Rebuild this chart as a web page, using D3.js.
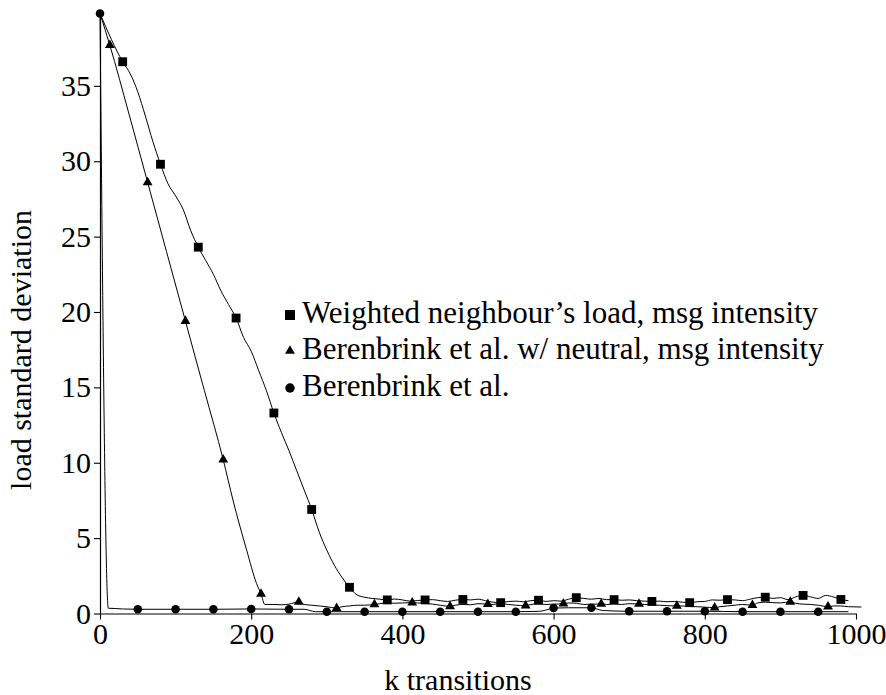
<!DOCTYPE html>
<html>
<head>
<meta charset="utf-8">
<script src="https://cdn.jsdelivr.net/npm/d3@7"></script>
<style>
  html, body { margin: 0; padding: 0; background: #fff; }
  svg { display: block; }
</style>
</head>
<body>
<script>
// ---------- data ----------
const xTicks = [0, 200, 400, 600, 800, 1000];
const yTicks = [0, 5, 10, 15, 20, 25, 30, 35];
const legendLabels = [
  "Weighted neighbour\u2019s load, msg intensity",
  "Berenbrink et al. w/ neutral, msg intensity",
  "Berenbrink et al."
];
const xLabel = "k transitions";
const yLabel = "load standard deviation";

// Series 1: Weighted neighbour's load (squares) — line samples
const wX = [0, 30, 40, 50, 60, 70, 80, 90, 100, 110, 120, 130, 140, 150, 160, 170, 180, 190, 200, 210, 220, 230, 240, 250, 260, 270, 280, 290, 300, 310, 320, 330, 340, 350, 360, 370, 380, 390, 400, 410, 420, 430, 440, 450, 460, 470, 480, 490, 500, 510, 520, 530, 540, 550, 560, 570, 580, 590, 600, 610, 620, 630, 640, 650, 660, 670, 680, 690, 700, 710, 720, 730, 740, 750, 760, 770, 780, 790, 800, 810, 820, 830, 840, 850, 860, 870, 880, 890, 900, 910, 920, 930, 940, 950, 960, 970, 980, 990];
const wY = [39.8, 36.6, 35.8, 34.6, 33.0, 31.3, 29.8, 28.5, 27.7, 26.8, 25.4, 24.3, 23.4, 22.5, 21.4, 20.5, 19.6, 18.3, 17.4, 16.1, 14.8, 13.3, 12.0, 10.8, 9.5, 8.2, 6.9, 5.4, 4.2, 3.2, 2.4, 1.74, 1.23, 1.08, 1.0, 0.95, 0.9, 0.96, 0.9, 0.82, 0.86, 0.9, 0.92, 0.85, 0.8, 0.88, 0.93, 0.9, 0.95, 0.85, 0.75, 0.72, 0.8, 0.82, 0.78, 0.85, 0.88, 0.8, 0.85, 0.82, 0.95, 1.05, 1.0, 0.95, 1.0, 0.92, 0.92, 0.88, 0.9, 0.85, 0.82, 0.8, 0.82, 0.78, 0.8, 0.75, 0.72, 0.78, 0.8, 0.9, 0.88, 0.92, 0.9, 0.85, 0.95, 1.05, 1.08, 1.0, 1.05, 0.92, 1.1, 1.2, 1.1, 1.0, 1.2, 1.1, 0.93, 0.85];
const wMarkX = [30, 80, 130, 180, 230, 280, 330, 380, 430, 480, 530, 580, 630, 680, 730, 780, 830, 880, 930, 980];
const wMarkY = [36.6, 29.8, 24.3, 19.6, 13.3, 6.9, 1.74, 0.9, 0.9, 0.93, 0.72, 0.88, 1.05, 0.92, 0.8, 0.72, 0.92, 1.08, 1.2, 0.93];

// Series 2: Berenbrink et al. w/ neutral (triangles)
const nX = [0, 13, 38, 63, 88, 113, 138, 163, 176, 194, 207, 213, 218, 230, 240, 250, 263, 270, 280, 290, 300, 313, 320, 330, 340, 350, 363, 370, 380, 390, 400, 413, 420, 430, 440, 450, 463, 470, 480, 490, 500, 513, 520, 530, 540, 550, 563, 570, 580, 590, 600, 613, 620, 630, 640, 650, 663, 670, 680, 690, 700, 713, 720, 730, 740, 750, 763, 770, 780, 790, 800, 813, 820, 830, 840, 850, 863, 870, 880, 890, 900, 913, 920, 930, 940, 950, 963, 970, 980, 990, 1007];
const nY = [39.8, 37.7, 33.2, 28.6, 24.0, 19.4, 14.8, 10.2, 7.5, 4.2, 2.0, 1.3, 0.6, 0.6, 0.58, 0.62, 0.77, 0.6, 0.55, 0.5, 0.45, 0.36, 0.45, 0.5, 0.55, 0.55, 0.6, 0.65, 0.7, 0.68, 0.7, 0.72, 0.7, 0.68, 0.62, 0.55, 0.47, 0.55, 0.6, 0.58, 0.65, 0.62, 0.6, 0.66, 0.6, 0.55, 0.52, 0.6, 0.64, 0.6, 0.62, 0.65, 0.7, 0.68, 0.6, 0.62, 0.63, 0.6, 0.62, 0.6, 0.65, 0.63, 0.6, 0.56, 0.55, 0.52, 0.5, 0.5, 0.46, 0.45, 0.42, 0.39, 0.45, 0.5, 0.55, 0.6, 0.55, 0.7, 0.75, 0.72, 0.7, 0.77, 0.68, 0.62, 0.6, 0.55, 0.45, 0.5, 0.5, 0.45, 0.43];
const nMarkX = [13, 63, 113, 163, 213, 263, 313, 363, 413, 463, 513, 563, 613, 663, 713, 763, 813, 863, 913, 963];
const nMarkY = [37.7, 28.6, 19.4, 10.2, 1.3, 0.77, 0.36, 0.6, 0.72, 0.47, 0.62, 0.52, 0.65, 0.63, 0.63, 0.5, 0.39, 0.55, 0.77, 0.45];

// Series 3: Berenbrink et al. (circles)
const bX = [0, 11, 20, 30, 50, 100, 150, 200, 250, 270, 285, 300, 350, 400, 450, 500, 550, 580, 595, 600, 620, 650, 665, 700, 750, 800, 850, 900, 950, 990];
const bY = [39.8, 0.35, 0.33, 0.3, 0.28, 0.28, 0.28, 0.3, 0.28, 0.28, 0.12, 0.12, 0.12, 0.12, 0.12, 0.12, 0.12, 0.14, 0.3, 0.36, 0.38, 0.38, 0.2, 0.15, 0.15, 0.15, 0.12, 0.12, 0.12, 0.12];
const bMarkX = [0, 50, 100, 150, 200, 250, 300, 350, 400, 450, 500, 550, 600, 650, 700, 750, 800, 850, 900, 950];
const bMarkY = [39.8, 0.28, 0.28, 0.28, 0.3, 0.28, 0.12, 0.12, 0.12, 0.12, 0.12, 0.12, 0.36, 0.38, 0.15, 0.15, 0.15, 0.12, 0.12, 0.12];

// ---------- font pick: first installed serif family ----------
function pickFont() {
  const cands = ["Liberation Serif", "Tinos", "Times New Roman", "Times", "DejaVu Serif", "Noto Serif", "FreeSerif", "Nimbus Roman", "Georgia"];
  const ctx = document.createElement("canvas").getContext("2d");
  const probe = "Weighted neighbour's load, mgiWl 0123";
  const widthOf = f => { ctx.font = "40px " + f; return ctx.measureText(probe).width; };
  const baseA = widthOf("monospace"), baseB = widthOf("sans-serif");
  for (const c of cands) {
    const wa = widthOf(`'${c}', monospace`), wb = widthOf(`'${c}', sans-serif`);
    if (Math.abs(wa - baseA) > 0.5 && Math.abs(wb - baseB) > 0.5) return `'${c}', serif`;
  }
  return "serif";
}
const FONT = pickFont();

// ---------- layout ----------
const W = 886, H = 695;
const svg = d3.select("body").append("svg").attr("width", W).attr("height", H)
  .attr("font-family", FONT);

const x = d3.scaleLinear().domain([0, 1000]).range([100, 856]);
const y = d3.scaleLinear().domain([0, 39.8]).range([613.5, 13.5]);

const FS = 30;
const LFS = 31;

// axes
const xAxis = d3.axisBottom(x).tickValues(xTicks).tickSize(6).tickPadding(3).tickFormat(d3.format("d"));
const yAxis = d3.axisLeft(y).tickValues(yTicks).tickSize(6).tickPadding(3).tickFormat(d3.format("d"));

const gx = svg.append("g").attr("transform", `translate(0,${y(0)})`).call(xAxis);
const gy = svg.append("g").attr("transform", `translate(${x(0)},0)`).call(yAxis);
[gx, gy].forEach(g => {
  g.attr("font-family", FONT).attr("font-size", FS);
  g.select(".domain").attr("stroke", "#000").attr("stroke-width", 1.2);
  g.selectAll(".tick line").attr("stroke", "#000").attr("stroke-width", 1.1);
  g.selectAll(".tick text").style("font-family", FONT).attr("font-size", FS).attr("fill", "#000");
});
gx.select(".domain").attr("d", `M${x(0)},0.5H${x(1000)}`);
gy.select(".domain").attr("d", `M0.5,${y(39.8)}V${y(0)}`);

// axis titles
svg.append("text").attr("x", 458).attr("y", 690).attr("text-anchor", "middle")
  .style("font-family", FONT).attr("font-size", FS).text(xLabel);
svg.append("text").attr("transform", `translate(31,350) rotate(-90)`).attr("text-anchor", "middle")
  .style("font-family", FONT).attr("font-size", FS).text(yLabel);

// lines
const line = d3.line().x(d => x(d[0])).y(d => y(d[1])).curve(d3.curveMonotoneX);
const series = [
  { xs: wX, ys: wY, mx: wMarkX, my: wMarkY, sym: d3.symbolSquare, size: 78 },
  { xs: nX, ys: nY, mx: nMarkX, my: nMarkY, sym: d3.symbolTriangle, size: 42 },
  { xs: bX, ys: bY, mx: bMarkX, my: bMarkY, sym: d3.symbolCircle, size: 58 }
];
series.forEach(s => {
  svg.append("path").datum(d3.zip(s.xs, s.ys)).attr("d", line)
    .attr("fill", "none").attr("stroke", "#000").attr("stroke-width", 1);
});
series.forEach(s => {
  svg.append("g").selectAll("path").data(d3.zip(s.mx, s.my)).join("path")
    .attr("transform", d => `translate(${x(d[0])},${y(d[1])})`)
    .attr("d", d3.symbol().type(s.sym).size(s.size))
    .attr("fill", "#000");
});

// legend
const legY = [323, 359, 396];
series.forEach((s, i) => {
  svg.append("path").attr("transform", `translate(290,${legY[i] - 8})`)
    .attr("d", d3.symbol().type(s.sym).size(i === 1 ? 42 : (i === 0 ? 100 : 70))).attr("fill", "#000");
  svg.append("text").attr("x", 302).attr("y", legY[i]).style("font-family", FONT)
    .attr("font-size", LFS).text(legendLabels[i]);
});
</script>
</body>
</html>
